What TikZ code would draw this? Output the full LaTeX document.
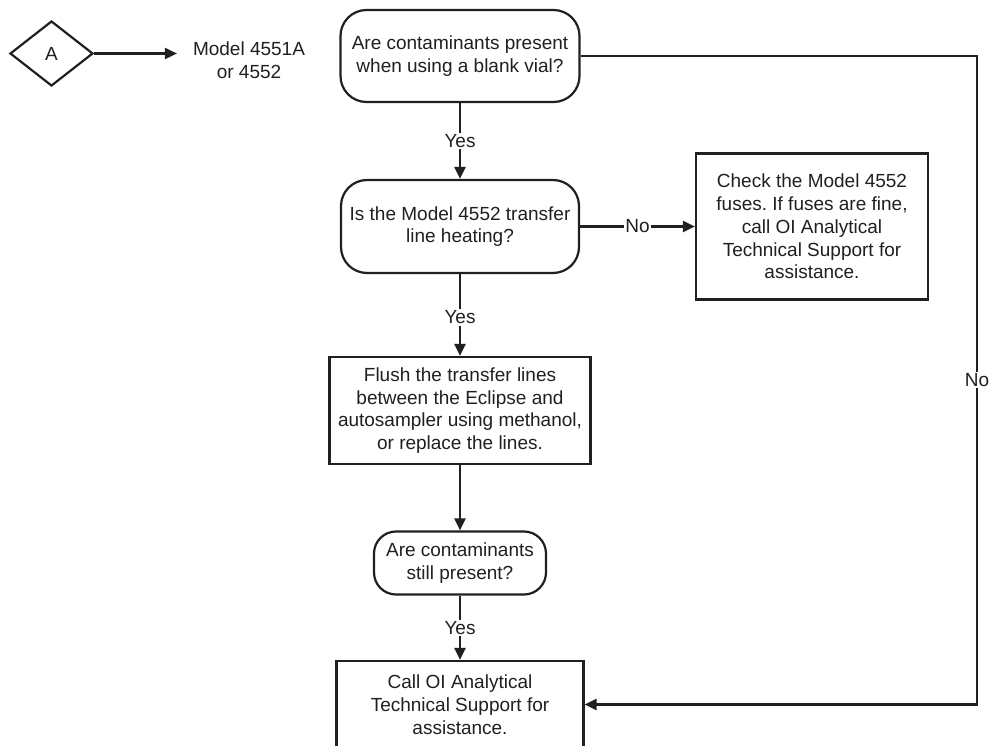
\documentclass[tikz,border=0pt]{standalone}
\usepackage{fontspec}
\setmainfont{Liberation Sans}
\usepackage{xcolor}
\usepackage{tikz}
\usetikzlibrary{shapes.geometric, arrows.meta, positioning}
\frenchspacing

\begin{document}
\begin{tikzpicture}[x=1pt, y=-1pt, font={\fontsize{19}{22.75}\selectfont},
    line width=2.2pt,
    arr/.style={-{Triangle[length=12pt, width=11pt]}},
    decision/.style={draw, rounded corners=26pt, align=center, inner sep=0pt},
    stepbox/.style={draw, align=center, inner sep=0pt},
    lbl/.style={fill=white, inner sep=1.5pt}]
  \definecolor{ink}{RGB}{35,31,32}
  % --- canvas ---
  \useasboundingbox (0,0) rectangle (990,746);
  \fill[white] (0,0) rectangle (990,746);
  \clip (0,0) rectangle (990,746);
  \begin{scope}[draw=ink, text=ink]
  % --- entry point ---
  \node[draw, diamond, minimum width=83pt, minimum height=65pt, inner sep=0pt] (A) at (51.5,53.5) {A};
  \node[align=center, inner sep=15pt] (model) at (249,60) {Model 4551A\\or 4552};
  % --- decisions and actions ---
  \node[decision, minimum width=239pt, minimum height=92pt] (blank) at (460,56)
    {Are contaminants present\\when using a blank vial?};
  \node[decision, minimum width=238pt, minimum height=93pt] (heating) at (460,226.5)
    {Is the Model 4552 transfer\\line heating?};
  \node[stepbox, minimum width=232pt, minimum height=146pt] (fuses) at (812,226.5)
    {Check the Model 4552\\fuses. If fuses are fine,\\call OI Analytical\\Technical Support for\\assistance.};
  \node[stepbox, minimum width=261pt, minimum height=107pt] (flush) at (460,410.5)
    {Flush the transfer lines\\between the Eclipse and\\autosampler using methanol,\\or replace the lines.};
  \node[decision, rounded corners=22pt, minimum width=172pt, minimum height=63pt] (still) at (460,563)
    {Are contaminants\\still present?};
  \node[stepbox, minimum width=247pt, minimum height=87pt] (call) at (460,704.5)
    {Call OI Analytical\\Technical Support for\\assistance.};
  \coordinate (turn) at (977,56);
  % --- connectors ---
  \draw[arr] (A.east) -- (A.east -| model.west);
  \draw[arr] (blank) -- node[lbl] {Yes} (heating);
  \draw[arr] (heating.east) -- node[lbl] {No} (heating.east -| fuses.west);
  \draw[arr] (heating) -- node[lbl, pos=0.53] {Yes} (flush);
  \draw[arr] (flush) -- (still);
  \draw[arr] (still) -- node[lbl] {Yes} (call);
  \draw[arr] (blank.east) -- (turn) -- node[lbl] {No} (turn |- call.east) -- (call.east);
  \end{scope}
\end{tikzpicture}
\end{document}
